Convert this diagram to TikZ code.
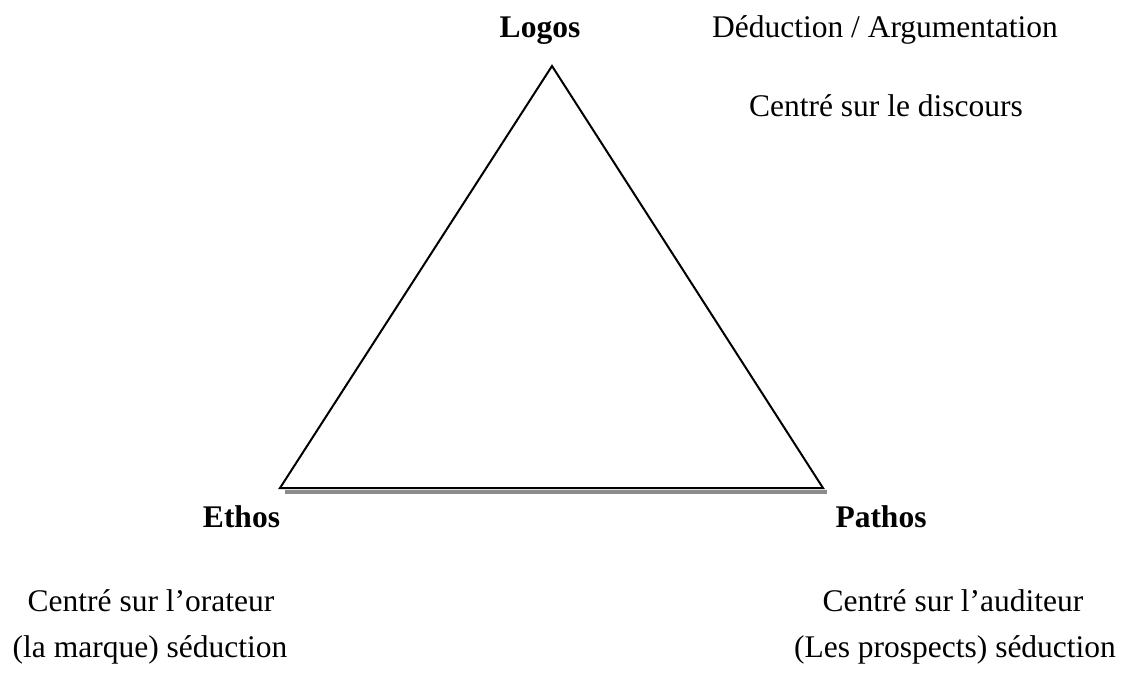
\documentclass[tikz,border=0pt]{standalone}
\usepackage{fontspec}
\setmainfont{Liberation Serif}
\begin{document}
\begin{tikzpicture}[x=1pt,y=-1pt,
  lbl/.style={font=\fontsize{31.5}{36}\selectfont, inner sep=0pt, anchor=base},
  vtx/.style={lbl, font=\fontsize{31.5}{36}\selectfont\bfseries}]
\useasboundingbox (0,0) rectangle (1126,673);
\coordinate (A) at (552,66);
\coordinate (B) at (280,488);
\coordinate (C) at (823,488);
\coordinate (Bs) at (285,491.5);
\coordinate (Cs) at (827,491.5);
\draw[black!45, line width=4pt] (Bs) -- (Cs);
\draw[line width=2pt, line join=miter, fill=white] (A) -- (B) -- (C) -- cycle;
\node[vtx] (logos) at (540,37) {Logos};
\node[lbl] (ded) at (885,37) {Déduction / Argumentation};
\node[lbl] (disc) at (886,116) {Centré sur le discours};
\node[vtx] (ethos) at (241.5,527) {Ethos};
\node[vtx] (pathos) at (881,527) {Pathos};
\node[lbl] (orat) at (151,611) {Centré sur l’orateur};
\node[lbl] (marq) at (150,657) {(la marque) séduction};
\node[lbl] (audi) at (953,611) {Centré sur l’auditeur};
\node[lbl] (prosp) at (955,657) {(Les prospects) séduction};
\end{tikzpicture}
\end{document}
